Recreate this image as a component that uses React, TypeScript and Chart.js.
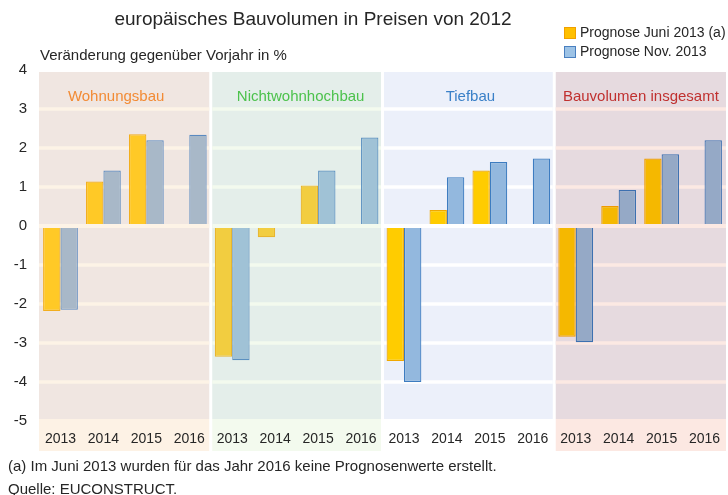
import React, { useEffect, useRef } from 'react';
import { Chart, registerables } from 'chart.js';

Chart.register(...registerables);

// ---------- data ----------
const chartTitle = 'europäisches Bauvolumen in Preisen von 2012';
const axisNote = 'Veränderung gegenüber Vorjahr in %';
const years = ['2013', '2014', '2015', '2016'];
const segments = ['Wohnungsbau', 'Nichtwohnhochbau', 'Tiefbau', 'Bauvolumen insgesamt'];
const seriesNames = ['Prognose Juni 2013 (a)', 'Prognose Nov. 2013'];
const juniValues = [-2.18, 1.14, 2.35, null, -3.35, -0.29, 1.04, null, -3.46, 0.41, 1.42, null, -2.84, 0.51, 1.73, null];
const novValues = [-2.15, 1.42, 2.2, 2.34, -3.44, null, 1.42, 2.27, -4.0, 1.25, 1.64, 1.73, -2.98, 0.92, 1.84, 2.2];
const yMin = -5;
const yMax = 4;
const footnotes = [
  '(a) Im Juni 2013 wurden für das Jahr 2016 keine Prognosenwerte erstellt.',
  'Quelle: EUCONSTRUCT.',
];

// ---------- styles ----------
const FONT = "'Liberation Sans', Arial, sans-serif";
const TEXT = '#262626';
const panelBg = ['#F0E6E1', '#E4EEEA', '#ECF0FA', '#E6DADF'];
const gridCol = ['#FDF3E6', '#F3FAEE', '#FFFFFF', '#FCE9E3'];
const bandCol = ['#FDF2E5', '#F3FAEE', '#FFFFFF', '#FCE8E2'];
const headCol = ['#F28B35', '#4CC24C', '#3A80C8', '#C0302F'];
const headShift = [-8, 4, 2, 0];
const juniFill = ['#FFC926', '#F2CD40', '#FFCC00', '#F5B800'];
const juniBorder = ['#F2AE1E', '#E8B52E', '#F0A800', '#EF9A00'];
const novFill = ['#A8B8C8', '#A0C2D6', '#93B8DE', '#95A9C6'];
const novBorder = ['#5B8AC0', '#5B90C0', '#3D7CC0', '#3D70B0'];
const legendFill = ['#FFC000', '#9DC3E6'];
const legendBorder = ['#F0A000', '#4A80C0'];

const labels: string[] = [];
segments.forEach(() => years.forEach((y) => labels.push(y)));
const perBar = (arr: string[]) => labels.map((_, i) => arr[Math.floor(i / years.length)]);

const decoPlugin = {
  id: 'deco',
  beforeDraw(chart: any) {
    const { ctx, chartArea: ca, scales } = chart;
    const xs = scales.x;
    const ys = scales.y;
    const n = years.length;
    ctx.save();
    const top = ys.getPixelForValue(yMax);
    const bot = ys.getPixelForValue(yMin);
    segments.forEach((seg, p) => {
      const l = xs.getPixelForValue(p * n - 0.5) + (p > 0 ? 1.5 : 0);
      const r = xs.getPixelForValue(p * n + n - 0.5) - (p < segments.length - 1 ? 1.5 : 0);
      ctx.fillStyle = panelBg[p];
      ctx.fillRect(l, top + 2, r - l, bot - top - 4);
      ctx.fillStyle = bandCol[p];
      ctx.fillRect(l, bot - 2, r - l, xs.bottom - bot + 2);
      ctx.strokeStyle = gridCol[p];
      ctx.lineWidth = 3.5;
      for (let v = yMax - 1; v > yMin; v--) {
        if (v === 0) continue;
        const y = ys.getPixelForValue(v);
        ctx.beginPath();
        ctx.moveTo(l, y);
        ctx.lineTo(r, y);
        ctx.stroke();
      }
      ctx.fillStyle = headCol[p];
      ctx.font = `15px ${FONT}`;
      ctx.textAlign = 'center';
      ctx.textBaseline = 'middle';
      ctx.fillText(seg, (l + r) / 2 + headShift[p], ys.getPixelForValue(yMax - 0.7));
    });
    // title
    ctx.fillStyle = TEXT;
    ctx.font = `19px ${FONT}`;
    ctx.textAlign = 'center';
    ctx.textBaseline = 'middle';
    ctx.fillText(chartTitle, 313, 20);
    ctx.font = `15px ${FONT}`;
    ctx.textAlign = 'left';
    ctx.fillText(axisNote, ca.left + 1, 56);
    // legend
    ctx.font = `14px ${FONT}`;
    chart.data.datasets.forEach((ds: any, i: number) => {
      const y = 33 + i * 19;
      ctx.fillStyle = legendFill[i];
      ctx.fillRect(564, y - 6, 12, 12);
      ctx.strokeStyle = legendBorder[i];
      ctx.lineWidth = 1;
      ctx.strokeRect(564.5, y - 5.5, 11, 11);
      ctx.fillStyle = TEXT;
      ctx.fillText(ds.label, 580, y);
    });
    // footnotes
    ctx.font = `15px ${FONT}`;
    footnotes.forEach((t, i) => ctx.fillText(t, 8, 467 + i * 23));
    ctx.restore();
  },
  afterDatasetsDraw(chart: any) {
    const { ctx, scales } = chart;
    const xs = scales.x;
    const ys = scales.y;
    const n = years.length;
    ctx.save();
    const y0 = ys.getPixelForValue(0);
    segments.forEach((_, p) => {
      const l = xs.getPixelForValue(p * n - 0.5) + (p > 0 ? 1.5 : 0);
      const r = xs.getPixelForValue(p * n + n - 0.5) - (p < segments.length - 1 ? 1.5 : 0);
      ctx.fillStyle = gridCol[p];
      ctx.fillRect(l, y0 - 2, r - l, 4);
    });
    ctx.restore();
  },
};

export default function App() {
  const ref = useRef<HTMLCanvasElement | null>(null);
  useEffect(() => {
    if (!ref.current) return;
    const chart = new Chart(ref.current, {
      type: 'bar',
      data: {
        labels,
        datasets: [
          {
            label: seriesNames[0],
            data: juniValues as any,
            backgroundColor: perBar(juniFill),
            borderColor: perBar(juniBorder),
            borderWidth: 1.2,
            categoryPercentage: 0.81,
            barPercentage: 1,
          },
          {
            label: seriesNames[1],
            data: novValues as any,
            backgroundColor: perBar(novFill),
            borderColor: perBar(novBorder),
            borderWidth: 1.2,
            categoryPercentage: 0.81,
            barPercentage: 1,
          },
        ],
      },
      options: {
        responsive: false,
        animation: false,
        layout: { padding: { top: 70, bottom: 44, left: 0, right: 2 } },
        plugins: { legend: { display: false }, title: { display: false }, tooltip: { enabled: false } },
        scales: {
          x: {
            grid: { display: false, drawTicks: false },
            border: { display: false },
            ticks: { font: { size: 14, family: FONT }, color: TEXT, padding: 10, autoSkip: false, maxRotation: 0 },
            afterFit: (s: any) => { s.height = 30; s.paddingLeft = 0; s.paddingRight = 0; },
          },
          y: {
            min: yMin,
            max: yMax,
            grid: { display: false, drawTicks: false },
            border: { display: false },
            ticks: { stepSize: 1, font: { size: 15, family: FONT }, color: TEXT, padding: 12 },
            afterFit: (s: any) => { s.width = 39; },
          },
        },
      },
      plugins: [decoPlugin],
    });
    return () => chart.destroy();
  }, []);
  return (
    <div style={{ position: 'absolute', left: 0, top: 0, width: 728, height: 495, background: '#fff' }}>
      <canvas ref={ref} width={728} height={495} style={{ display: 'block' }} />
    </div>
  );
}
